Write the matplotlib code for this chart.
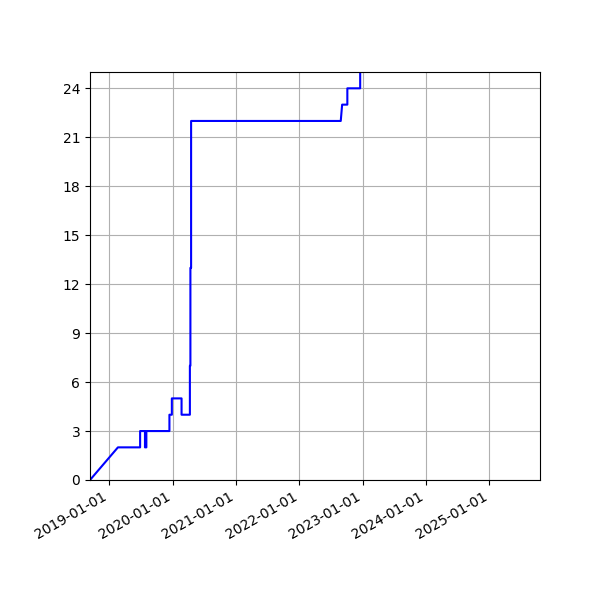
#!/usr/bin/env python3
"""Cumulative count over time, step-like line with yearly date ticks."""
import matplotlib
matplotlib.use("Agg")
import matplotlib.pyplot as plt
import matplotlib.dates as mdates
import numpy as np
import pandas as pd

# event points (date, cumulative value)
dates = [
    "2018-09-12", "2019-02-20", "2019-06-28", "2019-06-28",
    "2019-07-26", "2019-07-26", "2019-08-03", "2019-08-03",
    "2019-12-14", "2019-12-14", "2019-12-28", "2019-12-28",
    "2020-02-22", "2020-02-22", "2020-04-10", "2020-04-10",
    "2020-04-13", "2020-04-13", "2020-04-17", "2020-04-17",
    "2022-08-28", "2022-09-05", "2022-10-05", "2022-10-05",
    "2022-12-18", "2022-12-18",
]
values = [
    0, 2, 2, 3,
    3, 2, 2, 3,
    3, 4, 4, 5,
    5, 4, 4, 7,
    7, 13, 13, 22,
    22, 23, 23, 24,
    24, 30,
]

x_lo = "2018-09-12"
x_hi = "2025-10-20"
y_ticks = np.arange(0, 25, 3)

x = pd.to_datetime(dates)

fig, ax = plt.subplots(figsize=(6, 6), dpi=100)
ax.plot(x, values, color="blue", linewidth=1.5)
ax.set_xlim(pd.Timestamp(x_lo), pd.Timestamp(x_hi))
ax.set_ylim(0, 25)
ax.set_yticks(y_ticks)
ax.xaxis.set_major_locator(mdates.YearLocator())
ax.xaxis.set_major_formatter(mdates.DateFormatter("%Y-%m-%d"))
ax.grid(True)
fig.autofmt_xdate()
fig.subplots_adjust(left=0.15, right=0.9, top=0.88, bottom=0.2)
fig.savefig("out.png", dpi=100)
plt.close(fig)
